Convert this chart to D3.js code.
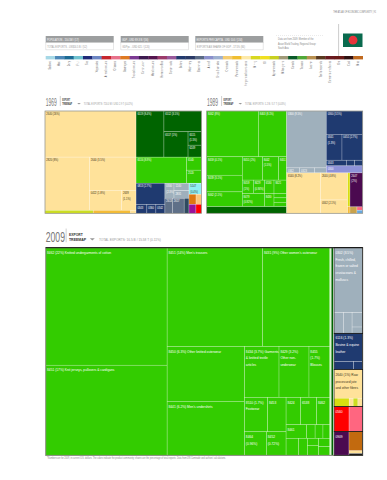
<!DOCTYPE html>
<html>
<head>
<meta charset="utf-8">
<script src="https://cdn.jsdelivr.net/npm/d3@7"></script>
<style>
  html, body { margin: 0; padding: 0; background: #fff; }
  text { font-family: "Liberation Sans", sans-serif; }
</style>
</head>
<body>
<svg width="387" height="480"></svg>
<script>
// product community strip
var categories = ["Seafood", "Meat", "Dairy", "Fruit", "Tea", "Vegetables", "Animal products", "Oil seeds", "Beverages",
  "Tropical products", "Construction", "Metal products", "Home and office", "Garden tools", "Boilers", "Machinery",
  "Electronics", "Aircraft", "Ships & vehicles", "Chemicals", "Petrochemicals", "Inorganic salts and acids", "Mining",
  "Oil", "Agrochemicals", "Milled grains", "Cereals", "Tobacco", "Leather", "Textile materials", "Garments and fabrics", "Ore", "Coal", "Misc"];
var categoryColors = ["#a6d8e6", "#4d88b8", "#1c6b95", "#70c2d0", "#1f2a78", "#6c86c4", "#c7262e", "#e8718b", "#df7a22",
  "#7c3a93", "#3d1a4f", "#54154e", "#9b3a6a", "#99599b", "#223a6e", "#2a3a66", "#5a6a85", "#8a90cc", "#9db0d0",
  "#f5cc70", "#f0be30", "#fde9a8", "#d8d820", "#f0e020", "#c8d020", "#a09a78", "#0a5a28", "#50a838", "#b89050",
  "#5a3a20", "#6a1a20", "#6a1a18", "#301010", "#c06a20"];

var statTitles = ["POPULATION - 150.5M / (17)", "GDP - USD 89.3 B / (56)", "EXPORTS PER CAPITA - USD 104 / (134)"];
var statSubs = ["TOTAL EXPORTS - US$16.5 B / (52)", "GDPpc - USD 621 / (120)", "EXPORTS AS SHARE OF GDP - 17.5% (84)"];
var noteLines = ["Data are from 2009. Member of the", "Asian World Trading, Regional Group:", "South Asia"];

var groupColors = {
  jute: "#ffe29a", yellow: "#ccdd22", gold: "#f5bc35", darkgreen: "#006400", green: "#33cc00", sliver: "#dcf5cf",
  navy: "#1f3a70", grey: "#9fb0bc", slate: "#5f7088", darkslate: "#2f4a60", periwinkle: "#8e92d8", cyan: "#8ff0f5",
  orange: "#dd7711", tan: "#fbc57a", purple: "#99119a", red: "#ff0000", pink: "#ff6680", plum: "#4b0a50",
  khaki: "#c9a24c", blue: "#66a8e0", brown: "#c26a0f", black: "#111111", yellowdark: "#d8dd10"
};

// 1969: share of exports
var jute1969 = [
  ["2640 (26%)", 26.1, "jute"],
  [["2820 (8%)", 14.7, "jute"],
   [["2640 (3.5%)", 9.6, "jute"],
    [["0422 (1.8%)", 4.0, "jute"], ["2639\n(1.1%)", 1.8, "jute"]]]],
  [["", 0.9, "yellow"], ["", 0.7, "gold"], ["", 0.1, "jute"]]
];
var darkGreen1969 = [
  ["6519 (8.4%)", 8.0, "darkgreen"],
  [["6512 (3.5%)", 4.85, "darkgreen"],
   [["6517 (1%)", 3.8, "darkgreen"],
    [["6515\n(1.5%)", 1.12, "darkgreen"], ["6249", 1.0, "darkgreen"]]]]
];
var green1969 = [
  ["6516 (8.9%)", 8.2, "green"],
  [["6540", 1.2, "green"], ["2520", 1.2, "green"]]
];
var mix1969 = [
  [["0813 (2.7%)", 3.8, "navy"],
   [["0343", 0.6, "navy"], ["0360", 0.5, "navy"], ["0342", 0.5, "navy"]]],
  [[["0300\n(2.3%)", 0.85, "grey"], [["1240", 0.7, "grey"], ["2831", 0.7, "grey"]]],
   [["2613", 0.7, "slate"], ["2617", 1.1, "slate"], ["", 0.45, "darkslate"]]],
  [["5147\n(0.4%)", 0.86, "cyan"],
   [["", 0.44, "orange"], ["", 0.34, "tan"]],
   [["", 0.39, "purple"], ["", 0.31, "red"]]]
];
var tree1969 = [jute1969, [darkGreen1969, green1969, mix1969]];

// 1989
var garmentsTop1989 = [["8462 (8%)", 14.8, "green"], ["8463 (8.1%)", 8.1, "green"]];
var garmentsMid1989 = [
  [["8459 (4.1%)", 4.1, "green"], ["8439 (3.1%)", 3.7, "green"], ["8462 (2.1%)", 3.3, "green"]],
  [[["8451 (2%)", 2.95, "green"], ["8442\n(1.5%)", 2.36, "green"], ["8451", 1.17, "green"]],
   [["8459\n(1%)", 0.92, "green"], ["8429\n(0.94%)", 0.92, "green"], ["6530", 0.8, "green"], ["8421", 1.05, "green"]],
   [["8479\n(0.92%)", 1.84, "green"], ["8430", 0.8, "green"],
    [["", 0.35, "green"], ["", 0.35, "green"], ["", 0.35, "green"]]]]
];
var seafoodNavy1989 = [
  ["0360 (3.5%)", 5.3, "navy"],
  [["0341\n(1.3%)", 2.55, "navy"], ["0451 (2.7%)", 3.36, "navy"]],
  [["0343", 0.71, "navy"], ["", 0.29, "navy"], ["", 0.29, "navy"]],
  ["0300", 1.6, "periwinkle"]
];
var fish1989 = [["0300 (9.5%)", 14.1, "grey"], [["0342", 0.41, "grey"], ["0323", 0.47, "grey"], ["", 0.36, "grey"]]];
var jute1989 = [
  ["6540 (8.2%)", 8.56, "jute"],
  [["2640 (4.8%)", 4.6, "jute"], ["0342 (2.1%)", 2.27, "jute"]],
  [["", 0.48, "yellowdark"], ["", 0.1, "gold"]],
  [["2647\n(2%)", 2.7, "plum"],
   [["", 0.28, "khaki"], [["", 0.12, "pink"], ["", 0.11, "blue"]]]]
];
var tree1989 = [
  [garmentsTop1989, garmentsMid1989, ["", 3.3, "darkgreen"]],
  [[fish1989, seafoodNavy1989], jute1989]
];

// 2009
var garmentsLeft2009 = [
  ["8462 (22%) Knitted undergarments of cotton", 21.5, "green"],
  ["8451 (17%) Knit jerseys, pullovers & cardigans", 16.5, "green"]
];
var garmentsTop2009 = [
  ["8451 (14%) Men's trousers", 14.2, "green"],
  ["8431 (9%) Other women's outerwear", 10.0, "green"]
];
var garmentsLow2009 = [
  [["8450 (6.3%) Other knitted outerwear", 6.4, "green"], ["8441 (6.2%) Men's undershirts", 6.3, "green"]],
  [[["8434 (3.7%) Garments\n& knitted textile\narticles", 2.65, "green"],
    ["8429 (3.2%)\nOther non-\nunderwear", 2.3, "green"],
    ["8455\n(1.7%)\nBlouses", 1.6, "green"]],
   [[[["8510 (1.7%)\nFootwear", 1.2, "green"], ["8453", 0.96, "green"]],
     [["8464\n(0.96%)", 0.78, "green"], ["8452\n(0.72%)", 0.7, "green"]]],
    [[["8424", 0.6, "green"], ["6538", 0.66, "green"], ["8462", 0.55, "green"]],
     [["8461", 0.42, "green"], ["", 0.17, "green"], ["", 0.16, "green"], ["", 0.14, "green"]],
     [["", 0.32, "green"], ["", 0.23, "green"],
      [["", 0.12, "green"], ["", 0.17, "green"]],
      [["", 0.14, "green"], ["", 0.15, "green"]]]]]]
];
var seafood2009 = [
  ["0302 (8.5%)\nFresh, chilled,\nfrozen or salted\ncrustaceans &\nmolluscs", 2.8, "grey"],
  [["", 0.29, "grey"], ["", 0.27, "grey"], [["", 0.23, "grey"], ["", 0.1, "grey"]]]
];
var leather2009 = [
  ["6116 (1.3%)\nBovine & equine\nleather", 1.22, "navy"],
  [["", 0.24, "navy"], ["", 0.11, "navy"]]
];
var jute2009 = [
  ["2640 (1%) Raw\nprocessed jute\nand other fibres", 1.23, "jute"],
  [["", 0.19, "yellowdark"], ["", 0.05, "jute"], ["", 0.06, "yellow"], ["", 0.06, "jute"]]
];
var food2009 = [["0560", 0.56, "red"], ["", 0.51, "pink"]];
var misc2009 = [
  ["0909", 0.54, "plum"],
  [["", 0.4, "brown"], ["", 0.055, "jute"], ["", 0.04, "black"]]
];
var framed2009 = [seafood2009, leather2009, jute2009, food2009, misc2009];
var tree2009 = [
  [[garmentsLeft2009, [garmentsTop2009, garmentsLow2009]]],
  ["", 0.45, "sliver"],
  ["", 0.65, "darkgreen"],
  ["", 0.22, "sliver"],
  [[seafood2009], [leather2009], [jute2009], food2009, misc2009]
];

var svg = d3.select("svg");

function isLeaf(d) { return typeof d[0] === "string"; }

function drawTreemap(tree, box, fontSize, lineGap, firstLine, edge) {
  var root = d3.hierarchy(tree, function(d) { return isLeaf(d) ? null : d; })
      .sum(function(d) { return isLeaf(d) ? d[1] : 0; });

  // slice and dice keeps the column/row nesting of the original
  d3.treemap().tile(d3.treemapSliceDice).size([box.w, box.h])(root);

  var g = svg.append("g").attr("transform", "translate(" + box.x + "," + box.y + ")");

  var cell = g.selectAll("g").data(root.leaves()).join("g")
      .attr("transform", function(d) { return "translate(" + d.x0 + "," + d.y0 + ")"; });

  cell.append("rect")
      .attr("width", function(d) { return d.x1 - d.x0; })
      .attr("height", function(d) { return d.y1 - d.y0; })
      .attr("fill", function(d) { return groupColors[d.data[2]]; })
      .attr("stroke", "#fff")
      .attr("stroke-opacity", 0.45)
      .attr("stroke-width", 0.5);

  cell.filter(function(d) { return d.data[0]; }).each(function(d) {
    var dark = d3.lab(groupColors[d.data[2]]).l > 78;
    d3.select(this).append("text")
        .attr("font-size", fontSize)
        .attr("fill", dark ? "#3a3320" : "#fff")
        .selectAll("tspan").data(d.data[0].split("\n")).join("tspan")
        .attr("x", 1.8)
        .attr("y", function(t, i) { return firstLine + i * lineGap; })
        .text(function(t) { return t; });
  });

  g.append("rect")
      .attr("width", box.w).attr("height", box.h)
      .attr("fill", "none").attr("stroke", "#8a8a80").attr("stroke-width", edge);

  return { g: g, root: root };
}

// top strip with the product names
var stripX = d3.scaleBand().domain(categories).range([45.7, 362.7]);
svg.append("g").selectAll("rect").data(categories).join("rect")
    .attr("x", function(d) { return stripX(d); })
    .attr("y", 56)
    .attr("width", stripX.bandwidth() + 0.3)
    .attr("height", 3.4)
    .attr("fill", function(d, i) { return categoryColors[i]; });

var stripAxis = svg.append("g")
    .attr("transform", "translate(0,61)")
    .call(d3.axisBottom(stripX).tickSize(0).tickPadding(0));
stripAxis.select(".domain").remove();
stripAxis.selectAll("text")
    .attr("font-size", 3)
    .attr("fill", "#666")
    .attr("text-anchor", "end")
    .attr("dominant-baseline", "middle")
    .attr("dy", null)
    .attr("y", 0)
    .attr("transform", "rotate(-90)");

// stat boxes
var statX = [45.7, 120.7, 195.3];
statTitles.forEach(function(t, i) {
  svg.append("rect").attr("x", statX[i]).attr("y", 36).attr("width", 68).attr("height", 6.7).attr("fill", "#9c9e9f");
  svg.append("rect").attr("x", statX[i] + 0.2).attr("y", 42.7).attr("width", 67.6).attr("height", 7.2)
      .attr("fill", "#fff").attr("stroke", "#c4c4c4").attr("stroke-width", 0.4);
  svg.append("text").attr("x", statX[i] + 1.2).attr("y", 40.6).attr("font-size", 3.2).attr("fill", "#fff").text(t);
  svg.append("text").attr("x", statX[i] + 1.5).attr("y", 47.6).attr("font-size", 3.2).attr("fill", "#999").text(statSubs[i]);
});

// note, flag and page head
svg.append("line").attr("x1", 276).attr("x2", 323).attr("y1", 35.5).attr("y2", 35.5)
    .attr("stroke", "#ccc").attr("stroke-width", 0.4).attr("stroke-dasharray", "1,1");
svg.append("g").selectAll("text").data(noteLines).join("text")
    .attr("x", 278)
    .attr("y", function(d, i) { return 40.3 + i * 4.5; })
    .attr("font-size", 3)
    .attr("fill", "#888")
    .text(function(d) { return d; });

svg.append("line").attr("x1", 338.6).attr("x2", 338.6).attr("y1", 24).attr("y2", 56)
    .attr("stroke", "#aaa").attr("stroke-width", 0.6);
svg.append("rect").attr("x", 343).attr("y", 33.5).attr("width", 19.5).attr("height", 13.5).attr("fill", "#0a6a4e");
svg.append("circle").attr("cx", 353).attr("cy", 40.2).attr("r", 4.4).attr("fill", "#e8343c");

// squeeze a text sideways, the installed sans has no real narrow cut
function squeeze(sel, k) {
  var x = sel.attr("x"), y = sel.attr("y");
  var before = sel.attr("transform") || "";
  if (x !== null) {
    sel.attr("x", null).attr("y", null);
    before += " translate(" + x + "," + y + ")";
  }
  return sel.attr("transform", before + " scale(" + k + ",1)").classed("narrow", true);
}
function fitWidth(sel, w) {
  return squeeze(sel, w / sel.node().getComputedTextLength());
}

fitWidth(svg.append("text").attr("x", 376).attr("y", 13).attr("text-anchor", "end")
    .attr("font-size", 2.8).attr("fill", "#777").text("THE ATLAS OF ECONOMIC COMPLEXITY | 91"), 43);

// year heads
function yearHead(year, total, x, base, s, yearW, capsW) {
  fitWidth(svg.append("text").attr("x", x).attr("y", base).attr("font-size", 11 * s).attr("fill", "#777")
      .text(year), yearW);
  svg.append("line").attr("x1", x + 14.6 * s).attr("x2", x + 14.6 * s).attr("y1", base - 9.5 * s).attr("y2", base + 0.5)
      .attr("stroke", "#888").attr("stroke-width", 0.4);
  fitWidth(svg.append("text").attr("x", x + 16.6 * s).attr("y", base - 4.4 * s).attr("font-size", 2.9 * s)
      .attr("font-weight", "bold").attr("fill", "#333").text("EXPORT"), capsW * 0.8);
  fitWidth(svg.append("text").attr("x", x + 16.6 * s).attr("y", base - 0.6 * s).attr("font-size", 2.9 * s)
      .attr("font-weight", "bold").attr("fill", "#333").text("TREEMAP"), capsW);
  var tx = x + 31.5 * s;
  svg.append("path")
      .attr("d", "M" + tx + "," + (base - 2.6 * s) + "h" + (3.6 * s) + "l" + (-1.8 * s) + "," + (1.6 * s) + "z")
      .attr("fill", "#999");
  svg.append("text").attr("x", tx + 6.5 * s).attr("y", base - 0.6 * s).attr("font-size", 3 * s)
      .attr("fill", "#999").text(total);
}
yearHead("1969", "TOTAL EXPORTS: 724.0 M / USD 2.9 T (0.02%)", 45.7, 105.5, 1, 11, 9.7);
yearHead("1989", "TOTAL EXPORTS: 1.2 B / 3.7 T (0.03%)", 207, 105.5, 1, 11, 9.7);
yearHead("2009", "TOTAL EXPORTS: 16.5 B / 15.58 T (0.11%)", 45.7, 241.8, 1.4, 19.3, 17.3);

// treemaps
drawTreemap(tree1969, {x: 45, y: 111, w: 156.5, h: 102.3}, 3.4, 5.2, 4.2, 0.7);
drawTreemap(tree1989, {x: 206.7, y: 111, w: 156, h: 102.3}, 3.4, 5.2, 4.2, 0.7);
var big = drawTreemap(tree2009, {x: 45.7, y: 247.7, w: 317, h: 207.7}, 4.3, 6.7, 6.2, 1);

// the small groups of 2009 sit in black frames
big.g.selectAll(".frame")
    .data(big.root.descendants().filter(function(d) { return framed2009.indexOf(d.data) >= 0; }))
    .join("rect")
    .attr("class", "frame")
    .attr("x", function(d) { return d.x0; })
    .attr("y", function(d) { return d.y0; })
    .attr("width", function(d) { return d.x1 - d.x0; })
    .attr("height", function(d) { return d.y1 - d.y0; })
    .attr("fill", "none")
    .attr("stroke", "#111")
    .attr("stroke-width", 0.6);
big.g.append("line").attr("x1", 0).attr("x2", 317).attr("y1", 0).attr("y2", 0)
    .attr("stroke", "#111").attr("stroke-width", 1);

svg.append("text").attr("x", 47).attr("y", 459).attr("font-size", 2.9).attr("fill", "#888")
    .text("*Numbers are for 2009, in current U.S. dollars. The colors indicate the product community; shares are the percentage of total exports. Data from UN Comtrade and authors' calculations.");

// everything else gets the same narrow look
svg.selectAll("text:not(.narrow)").each(function() {
  squeeze(d3.select(this), 0.76);
});
</script>
</body>
</html>
